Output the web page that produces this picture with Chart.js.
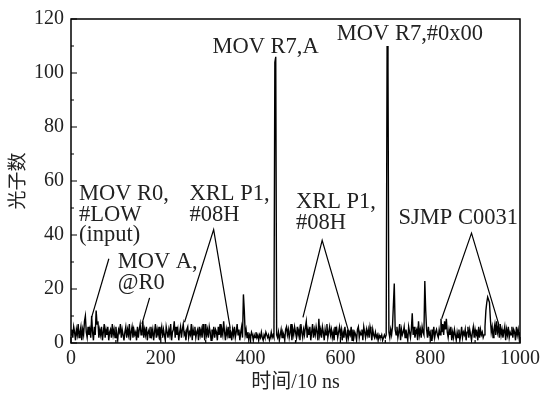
<!DOCTYPE html>
<html>
<head>
<meta charset="utf-8">
<script src="https://cdn.jsdelivr.net/npm/chart.js@4.4.1/dist/chart.umd.min.js"></script>
<style>
  body { margin: 0; background: #fff; }
  canvas { display: block; }
</style>
</head>
<body>
<canvas id="photon-chart" width="544" height="398"></canvas>
<script>
// photon counts, one value every 2 time units (0..1000)
const step = 2;
const counts = [
  3,5,2,6,4,1,5,3,7,2,
  4,6,1,5,3,8,10,4,2,6,
  3,5,2,10,4,1,6,3,12,7,
  8,2,5,3,6,1,4,7,2,5,
  3,6,1,4,5,2,7,3,5,2,
  6,3,1,5,4,7,2,5,3,1,
  4,6,2,5,3,7,1,4,6,2,
  5,3,4,1,6,2,5,7,3,4,
  8,2,5,3,6,1,4,5,2,6,
  3,5,1,4,7,2,5,3,6,1,
  4,6,2,5,3,1,6,4,2,5,
  3,7,1,4,5,8,2,6,3,5,
  1,4,6,2,5,7,3,4,1,5,
  6,2,4,3,7,1,5,3,6,2,
  4,5,1,6,3,5,2,7,4,1,
  7,3,5,2,6,4,1,5,3,6,
  2,5,4,1,6,3,7,2,5,3,
  8,4,1,5,3,6,2,5,4,1,
  5,3,6,2,4,7,3,5,1,4,
  6,2,18,12,3,5,2,4,1,3,
  2,4,3,1,3,2,4,2,3,1,
  3,2,4,2,1,3,2,4,3,2,
  3,1,2,4,2,3,2,104,106,3,
  2,4,1,3,5,2,4,3,1,5,
  6,3,5,2,4,7,1,5,3,6,
  4,2,6,3,5,1,7,4,2,5,
  3,6,8,2,5,3,6,1,4,7,
  2,5,3,6,4,1,9,3,5,2,
  6,4,1,5,3,7,2,4,6,3,
  5,2,4,1,6,3,5,2,4,6,
  3,5,1,4,2,6,3,1,5,2,
  4,3,6,1,5,2,4,3,1,5,
  6,2,4,3,5,1,6,4,2,5,
  3,5,2,6,4,1,5,3,2,4,
  2,3,1,3,2,2,3,1,2,3,
  2,3,110,102,4,2,5,3,6,14,
  22,5,3,6,2,4,7,1,5,3,
  4,6,2,5,3,1,6,4,2,5,
  11,3,6,2,4,5,1,8,3,5,
  2,6,4,3,23,12,5,2,6,3,
  4,1,5,3,6,2,4,5,3,2,
  5,3,9,4,7,3,8,5,9,4,
  2,5,3,6,1,4,2,5,3,1,
  4,2,5,1,3,6,2,4,3,5,
  1,4,6,2,5,3,1,4,6,2,
  5,3,4,1,6,2,5,3,4,2,
  3,6,12,15,17,16,15,9,4,6,
  2,5,7,3,8,4,6,2,7,3,
  5,2,4,6,1,5,3,6,2,4,
  3,6,2,5,4,1,6,3,5,2,
  4
];

const xTicks = [0, 200, 400, 600, 800, 1000];
const yTicks = [0, 20, 40, 60, 80, 100, 120];

// annotation texts (first-line baseline in data units)
const noteText = [
  ["MOV R0,", "#LOW", "(input)"],
  ["MOV A,", "@R0"],
  ["XRL P1,", "#08H"],
  ["XRL P1,", "#08H"],
  ["SJMP C0031"],
  ["MOV R7,A"],
  ["MOV R7,#0x00"]
];
const noteX = [17.7, 104, 264, 501, 729.5, 315, 592];
const noteY = [52.9, 27.6, 52.9, 50, 44, 107.4, 112.3];

// pointer lines from the labels down to the trace
const pointerX = [[84.3, 45.9], [175, 158], [252.8, 317.7, 354.8], [516.6, 559.4, 618.6], [825.5, 892, 953.4]];
const pointerY = [[31.2, 9.5], [16.7, 7.1], [7.7, 42, 5.3], [9.5, 38, 4.1], [9, 40.7, 6.5]];

const serif = '"Liberation Serif", "Noto Sans CJK SC", serif';

const trace = counts.map((c, i) => ({ x: i * step, y: c }));
const datasets = [{
  data: trace,
  borderColor: '#000',
  borderWidth: 1.4,
  pointRadius: 0,
  tension: 0
}];
for (let i = 0; i < pointerX.length; i++) {
  datasets.push({
    data: pointerX[i].map((x, j) => ({ x: x, y: pointerY[i][j] })),
    borderColor: '#000',
    borderWidth: 1.2,
    pointRadius: 0,
    tension: 0
  });
}

// frame, inward ticks and annotation text
const framePlugin = {
  id: 'frame',
  afterDatasetsDraw(chart) {
    const ctx = chart.ctx;
    const area = chart.chartArea;
    const xs = chart.scales.x;
    const ys = chart.scales.y;
    ctx.save();
    ctx.strokeStyle = '#000';
    ctx.lineWidth = 1.5;
    ctx.strokeRect(area.left, area.top, area.right - area.left, area.bottom - area.top);

    ctx.lineWidth = 1.2;
    ctx.beginPath();
    for (let v = 0; v <= 120; v += 10) {
      const py = ys.getPixelForValue(v);
      const len = v % 20 === 0 ? 6 : 3;
      ctx.moveTo(area.left, py);
      ctx.lineTo(area.left + len, py);
    }
    for (let v = 0; v <= 1000; v += 100) {
      const px = xs.getPixelForValue(v);
      const len = v % 200 === 0 ? 6 : 3;
      ctx.moveTo(px, area.bottom);
      ctx.lineTo(px, area.bottom - len);
    }
    ctx.stroke();

    ctx.fillStyle = '#222';
    ctx.font = '22.5px ' + serif;
    ctx.textAlign = 'left';
    ctx.textBaseline = 'alphabetic';
    noteText.forEach((lines, i) => {
      const px = xs.getPixelForValue(noteX[i]);
      const py = ys.getPixelForValue(noteY[i]);
      lines.forEach((t, j) => ctx.fillText(t, px, py + j * 20.5));
    });
    ctx.restore();
  }
};

new Chart(document.getElementById('photon-chart'), {
  type: 'line',
  data: { datasets: datasets },
  options: {
    responsive: false,
    animation: false,
    layout: { padding: { left: 0, right: 22, top: 12, bottom: 0 } },
    plugins: { legend: { display: false }, tooltip: { enabled: false } },
    scales: {
      x: {
        type: 'linear',
        min: 0,
        max: 1000,
        afterBuildTicks: (scale) => { scale.ticks = xTicks.map(v => ({ value: v })); },
        afterFit: (scale) => { scale.height = 55; },
        grid: { display: false, drawTicks: false },
        border: { display: false },
        ticks: { color: '#222', padding: 4, maxRotation: 0, callback: (v) => String(v), font: { family: serif, size: 20 } },
        title: {
          display: true,
          text: '时间/10 ns',
          color: '#222',
          padding: { top: 0, bottom: 3 },
          font: { family: serif, size: 20 }
        }
      },
      y: {
        min: 0,
        max: 120,
        afterBuildTicks: (scale) => { scale.ticks = yTicks.map(v => ({ value: v })); },
        afterFit: (scale) => { scale.width = 71; },
        grid: { display: false, drawTicks: false },
        border: { display: false },
        ticks: { color: '#222', padding: 7, callback: (v) => String(v), font: { family: serif, size: 20 } },
        title: {
          display: true,
          text: '光子数',
          color: '#222',
          padding: { top: 8, bottom: 0 },
          font: { family: serif, size: 19 }
        }
      }
    }
  },
  plugins: [framePlugin]
});
</script>
</body>
</html>
